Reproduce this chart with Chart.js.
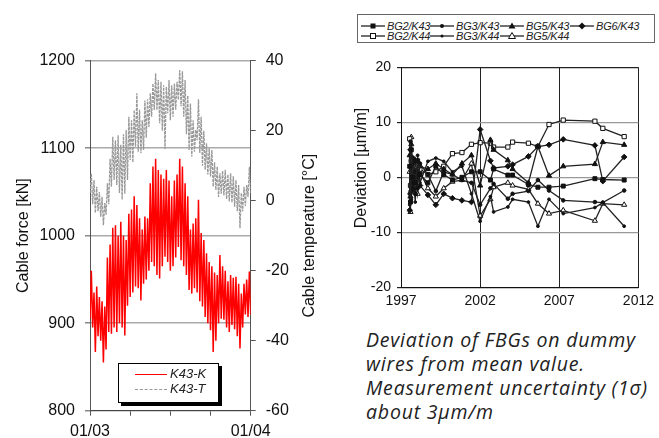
<!DOCTYPE html>
<html>
<head>
<meta charset="utf-8">
<script src="https://cdn.jsdelivr.net/npm/chart.js@4.4.1/dist/chart.umd.min.js"></script>
<style>
  html, body { margin: 0; padding: 0; background: #fff; }
  body { width: 659px; height: 438px; position: relative; overflow: hidden; font-family: "Liberation Sans", Arial, sans-serif; color: #111; }
  #forceChart { position: absolute; left: 0; top: 0; }
  #fbgChart { position: absolute; left: 340px; top: 0; }

  .legend-left { position: absolute; left: 118px; top: 363px; width: 99px; height: 38px; border: 1px solid #000; background: #fff; box-shadow: 3px 3px 0 #000; }
  .legend-left .row { position: absolute; left: 0; height: 14px; width: 99px; }
  .legend-left .sample { position: absolute; left: 16px; top: 7px; width: 32px; height: 0; }
  .legend-left .txt { position: absolute; left: 51px; top: 0; font-style: italic; font-size: 13px; line-height: 14px; color: #222; }

  .legend-right { position: absolute; left: 357px; top: 14px; width: 296px; height: 27px; border: 1px solid #666; background: #fff; }
  .legend-right .item { position: absolute; height: 10px; }
  .legend-right svg { position: absolute; left: 0; top: 0; }
  .legend-right .txt { position: absolute; left: 26px; top: -1px; font-style: italic; font-size: 11px; line-height: 12px; color: #222; white-space: nowrap; letter-spacing: -0.2px; }

  .caption { position: absolute; left: 366px; top: 328px; font-family: "Open Sans", sans-serif; font-style: italic; font-size: 19.5px; line-height: 24px; letter-spacing: 0.8px; color: #222; white-space: nowrap; }
</style>
</head>
<body>

<canvas id="forceChart" width="340" height="438"></canvas>
<canvas id="fbgChart" width="319" height="310"></canvas>

<div class="legend-left">
  <div class="row" style="top:3px">
    <div class="sample" style="border-top:1.5px solid #f00"></div>
    <div class="txt">K43-K</div>
  </div>
  <div class="row" style="top:18px">
    <div class="sample" style="border-top:1px dashed #999"></div>
    <div class="txt">K43-T</div>
  </div>
</div>

<div class="legend-right" id="fbgLegend"></div>

<div class="caption">
  Deviation of FBGs on dummy<br>
  wires from mean value.<br>
  Measurement uncertainty (1σ)<br>
  about 3μm/m
</div>

<script>

// ─────────────────────────────────────
// CABLE FORCE / TEMPERATURE DATA
// ─────────────────────────────────────

// months since 01/03
const months = [
    0, 0.2, 0.4, 0.6, 0.8, 1, 1.2, 1.4, 1.6, 1.8,
    2, 2.2, 2.4, 2.6, 2.8, 3, 3.2, 3.4, 3.6, 3.8,
    4, 4.2, 4.4, 4.6, 4.8, 5, 5.2, 5.4, 5.6, 5.8,
    6, 6.2, 6.4, 6.6, 6.8, 7, 7.2, 7.4, 7.6, 7.8,
    8, 8.2, 8.4, 8.6, 8.8, 9, 9.2, 9.4, 9.6, 9.8,
    10, 10.2, 10.4, 10.6, 10.8, 11, 11.2, 11.4, 11.6, 11.8,
    12
];

const xTickLabels = ["01/03", "", "", "", "01/04"];

// K43-K cable force [kN], highs and lows
const forceHigh = [
    960, 935, 942, 930, 925, 919, 975, 990, 1009, 1012,
    1000, 1016, 1000, 995, 1025, 1030, 1045, 1035, 1020, 1007,
    1022, 1020, 1060, 1079, 1088, 1075, 1070, 1065, 1075, 1063,
    1045, 1063, 1070, 1088, 1079, 1060, 1045, 1007, 1014, 1020,
    1041, 1003, 995, 980, 970, 965, 958, 955, 978, 965,
    960, 948, 955, 952, 953, 945, 934, 945, 950, 959,
    940
];
const forceLow = [
    905, 895, 867, 885, 880, 855, 870, 890, 888, 895,
    890, 900, 895, 886, 920, 930, 935, 942, 940, 926,
    945, 950, 960, 970, 965, 955, 951, 965, 976, 970,
    960, 965, 975, 987, 972, 965, 955, 938, 934, 940,
    935, 925, 919, 907, 900, 892, 867, 880, 900, 905,
    904, 895, 890, 898, 893, 885, 871, 895, 910, 907,
    910
];

// K43-T cable temperature [°C]
const tempHigh = [
    7.8, 5.9, 4.0, 2.5, 1.1, -0.7, 5.0, 12.0, 18.3, 17.3,
    18.7, 16.0, 19.0, 20.2, 24.0, 23.0, 25.9, 30.7, 26.0, 23.0,
    28.6, 29.0, 30.7, 33.5, 36.4, 34.5, 34.0, 33.0, 32.5, 34.5,
    33.0, 33.5, 34.0, 37.3, 37.0, 34.5, 30.0, 27.8, 23.0, 20.2,
    29.0, 24.0, 20.0, 16.4, 15.0, 14.5, 11.0, 9.7, 7.8, 8.5,
    8.8, 7.5, 7.8, 7.0, 5.9, 4.5, 2.2, 4.0, 4.5, 9.7,
    8.5
];
const tempLow = [
    2.2, -1.0, -3.5, -3.0, -4.6, -7.0, -4.0, -1.0, 4.0, 5.9,
    4.5, 2.2, 0.3, 2.0, 5.9, 11.6, 11.0, 15.4, 14.0, 13.6,
    14.5, 18.0, 21.1, 24.0, 25.9, 25.9, 22.1, 20.0, 14.8, 25.0,
    23.0, 24.0, 26.0, 28.8, 27.0, 24.0, 19.0, 14.5, 12.6, 14.0,
    17.3, 13.6, 10.0, 8.8, 7.5, 6.9, 4.0, 3.1, 1.1, 2.0,
    1.5, 0.5, -0.2, -0.5, -1.7, -3.0, -7.9, -3.0, -1.5, 1.1,
    2.0
];

// low -> high -> low ... so the noisy band is drawn as one line
function envelope(lows, highs) {
    const pts = [];
    months.forEach((m, i) => {
        pts.push({ x: m, y: lows[i] });
        pts.push({ x: m + 0.1, y: highs[i] });
    });
    return pts;
}


// ─────────────────────────────────────
// FBG DEVIATION DATA
// ─────────────────────────────────────

const years = [
    1997.55, 1997.6, 1997.65, 1997.75, 1997.9, 1998.05, 1998.2, 1998.7, 1999.2, 1999.7,
    2000.25, 2000.85, 2001.45, 2002.0, 2002.65, 2002.85, 2003.75, 2004.05, 2005.05, 2005.65,
    2006.35, 2007.25, 2009.25, 2009.75, 2011.1
];

const bg2k43 = [2.0, -4.5, 5.0, 0.0, -1.0, 3.0, 0.5, -1.0, 2.0, 0.5, -0.5, 0.0, 1.0, 1.0, -0.5, 1.5, 0.4, 0.4, -1.3, -1.8, -1.8, -1.6, -0.25, -0.4, -0.5];
const bg3k43 = [-3.0, 6.5, -1.0, 2.5, 1.0, -2.0, 2.5, 0.5, -2.5, 1.0, 0.5, -0.5, -1.0, -5.0, -2.0, -1.2, -3.9, -3.0, -2.5, -0.5, -2.4, -4.2, -4.5, -4.6, -2.4];
const bg5k43 = [4.0, -3.5, 6.0, -2.0, 3.0, 0.0, 2.0, 1.5, 2.5, 1.5, 0.5, 2.5, 4.0, -1.5, 6.8, 5.0, 3.1, 1.5, -1.0, 5.6, 0.3, 2.0, 2.4, 6.4, 5.9];
const bg6k43 = [-6.0, 5.0, -2.5, 3.5, -3.0, 1.0, -1.5, -3.2, -5.0, -3.0, -3.8, -4.2, -4.5, 8.7, 3.0, 1.7, 2.0, 2.3, 3.8, 5.6, 5.9, 6.9, 5.8, -0.7, 3.7];
const bg2k44 = [7.0, -1.5, 3.0, 1.0, 2.0, -1.0, 1.5, 0.5, 1.0, 2.0, 4.3, 4.5, 6.0, 6.3, 6.2, 5.5, 5.5, 6.4, 6.2, 5.6, 9.6, 10.4, 10.2, 8.9, 7.4];
const bg3k44 = [-5.0, 3.0, -4.0, 1.5, -4.5, 4.0, -1.0, 2.9, 3.5, 2.9, 1.0, 2.0, -3.0, -8.0, -3.5, -6.3, -5.4, -4.0, -4.5, -8.9, -4.0, -6.6, -5.5, -4.6, -8.9];
const bg5k44 = [1.0, -6.3, 7.3, -1.0, 0.5, -3.0, 1.0, -2.0, -3.5, -2.0, -0.8, -0.5, 2.5, -7.0, -4.0, -1.8, -1.0, -1.5, -2.2, -4.8, -6.6, -6.0, -7.9, -4.8, -5.0];

const yearTicks = [1997, 2002, 2007, 2012];

function points(values) {
    return years.map((yr, i) => ({ x: yr, y: values[i] }));
}


Chart.defaults.font.family = '"Liberation Sans", Arial, sans-serif';
Chart.defaults.color = '#111';


// rotated axis title drawn by hand (bottom-to-top, free position)
function sideTitle(id, text, x, y, size) {
    return {
        id: id,
        afterDraw(chart) {
            const ctx = chart.ctx;
            ctx.save();
            ctx.translate(x, y);
            ctx.rotate(-Math.PI / 2);
            ctx.font = size + 'px "Liberation Sans", Arial, sans-serif';
            ctx.fillStyle = '#111';
            ctx.textAlign = 'center';
            ctx.textBaseline = 'middle';
            ctx.fillText(text, 0, 0);
            ctx.restore();
        }
    };
}


// ─────────────────────────────────────
// LEFT CHART: CABLE FORCE + TEMPERATURE
// ─────────────────────────────────────

new Chart(document.getElementById("forceChart"), {

    type: "line",

    data: {
        datasets: [
            {
                label: "K43-T",
                data: envelope(tempLow, tempHigh),
                yAxisID: "y2",
                borderColor: "#999",
                borderWidth: 1.3,
                borderDash: [3, 1],
                pointRadius: 0,
                tension: 0
            },
            {
                label: "K43-K",
                data: envelope(forceLow, forceHigh),
                yAxisID: "y",
                borderColor: "#ff0000",
                borderWidth: 1.5,
                pointRadius: 0,
                tension: 0
            }
        ]
    },

    options: {
        responsive: false,
        animation: false,
        layout: { padding: { top: 60.7, left: 0, right: 0, bottom: 0 } },
        plugins: {
            legend: { display: false },
            tooltip: { enabled: false }
        },
        scales: {
            x: {
                type: "linear",
                min: 0,
                max: 12,
                ticks: {
                    stepSize: 3,
                    autoSkip: false,
                    maxRotation: 0,
                    padding: 6,
                    font: { size: 16 },
                    callback: v => xTickLabels[v / 3] ?? ""
                },
                grid: { drawOnChartArea: false, tickLength: 5, color: "#555" },
                border: { color: "#444" },
                afterFit: s => { s.height = 27.3; }
            },
            y: {
                min: 800,
                max: 1200,
                ticks: { stepSize: 100, padding: 10, font: { size: 16 }, callback: v => String(v) },
                grid: { color: "#aaa", lineWidth: 1.5, tickLength: 5, tickColor: "#888" },
                border: { color: "#555" },
                title: { display: true, text: "Cable force [kN]", font: { size: 16 }, padding: { top: 14 } },
                afterFit: s => { s.width = 90; }
            },
            y2: {
                position: "right",
                min: -60,
                max: 40,
                ticks: { stepSize: 20, padding: 10, font: { size: 16 }, callback: v => String(v) },
                grid: { drawOnChartArea: false, tickLength: 5, color: "#555" },
                border: { color: "#555" },
                afterFit: s => { s.width = 89.3; }
            }
        }
    },

    plugins: [sideTitle("tempTitle", "Cable temperature [°C]", 309.5, 235.7, 16)]
});


// ─────────────────────────────────────
// RIGHT CHART: FBG DEVIATION
// ─────────────────────────────────────

const fbgSeries = [
    { label: "BG2/K43", values: bg2k43, style: "rect", radius: 2.8, fill: "#111" },
    { label: "BG3/K43", values: bg3k43, style: "circle", radius: 1.8, fill: "#111" },
    { label: "BG5/K43", values: bg5k43, style: "triangle", radius: 3, fill: "#111" },
    { label: "BG6/K43", values: bg6k43, style: "rectRot", radius: 2.8, fill: "#111" },
    { label: "BG2/K44", values: bg2k44, style: "rect", radius: 3, fill: "#fff" },
    { label: "BG3/K44", values: bg3k44, style: "circle", radius: 1.4, fill: "#111" },
    { label: "BG5/K44", values: bg5k44, style: "triangle", radius: 3, fill: "#fff" }
];

new Chart(document.getElementById("fbgChart"), {

    type: "line",

    data: {
        datasets: fbgSeries.map(s => ({
            label: s.label,
            data: points(s.values),
            borderColor: "#222",
            borderWidth: 1.3,
            pointStyle: s.style,
            pointRadius: s.radius,
            pointBackgroundColor: s.fill,
            pointBorderColor: "#111",
            pointBorderWidth: 1,
            tension: 0
        }))
    },

    options: {
        responsive: false,
        animation: false,
        layout: { padding: { top: 67.3, right: 16, left: 0, bottom: 0 } },
        plugins: {
            legend: { display: false },
            tooltip: { enabled: false }
        },
        scales: {
            x: {
                type: "linear",
                min: 1997,
                max: 2012,
                afterBuildTicks: s => { s.ticks = yearTicks.map(v => ({ value: v })); },
                ticks: { padding: 5, maxRotation: 0, font: { size: 14 }, callback: v => String(v) },
                grid: { color: "#222", drawTicks: false },
                border: { color: "#111" },
                afterFit: s => { s.height = 22.7; }
            },
            y: {
                min: -20,
                max: 20,
                ticks: { stepSize: 10, padding: 6, font: { size: 14 }, callback: v => String(v) },
                grid: {
                    color: c => (c.tick && Math.abs(c.tick.value) === 20) ? "#222" : "#999",
                    lineWidth: 1.2,
                    tickLength: 4,
                    tickColor: "#222"
                },
                border: { color: "#111" },
                afterFit: s => { s.width = 61; }
            }
        }
    },

    plugins: [sideTitle("devTitle", "Deviation [µm/m]", 22, 168, 16)]
});


// ─────────────────────────────────────
// RIGHT LEGEND (line + marker samples)
// ─────────────────────────────────────

const markerSvg = {
    "BG2/K43": '<rect x="9.5" y="2.5" width="5" height="5" fill="#111"/>',
    "BG3/K43": '<circle cx="12" cy="5" r="2" fill="#111"/>',
    "BG5/K43": '<polygon points="12,1.5 15.5,7.5 8.5,7.5" fill="#111"/>',
    "BG6/K43": '<polygon points="12,1.5 15.5,5 12,8.5 8.5,5" fill="#111"/>',
    "BG2/K44": '<rect x="9.5" y="2.5" width="5" height="5" fill="#fff" stroke="#111" stroke-width="1"/>',
    "BG3/K44": '<circle cx="12" cy="5" r="1.5" fill="#111"/>',
    "BG5/K44": '<polygon points="12,1.5 15.5,7.5 8.5,7.5" fill="#fff" stroke="#111" stroke-width="1"/>'
};

const legendCols = [3, 72, 142, 212];
const legendRows = [6, 16];

const legendBox = document.getElementById("fbgLegend");

fbgSeries.forEach((s, i) => {
    const col = legendCols[i % 4];
    const row = legendRows[Math.floor(i / 4)];
    legendBox.innerHTML += `
        <div class="item" style="left:${col}px; top:${row}px">
            <svg width="24" height="10" viewBox="0 0 24 10">
                <line x1="0" y1="5" x2="24" y2="5" stroke="#222" stroke-width="1.3"/>
                ${markerSvg[s.label]}
            </svg>
            <div class="txt">${s.label}</div>
        </div>
    `;
});

</script>
</body>
</html>
